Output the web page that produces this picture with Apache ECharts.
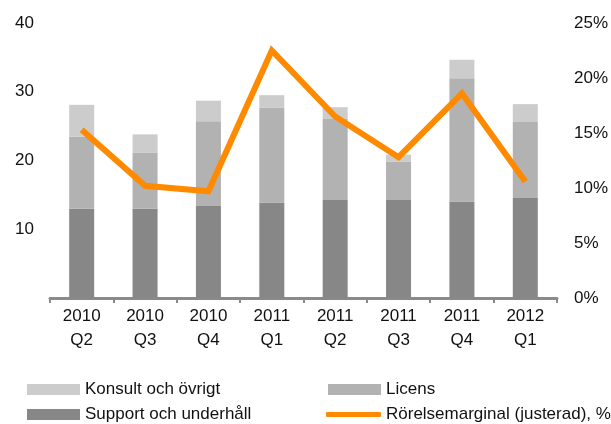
<!DOCTYPE html>
<html>
<head>
<meta charset="utf-8">
<script src="https://cdn.jsdelivr.net/npm/echarts@6/dist/echarts.min.js"></script>
<style>html,body{margin:0;padding:0;background:#fff}#c{width:611px;height:424px}</style>
</head>
<body>
<div id="c"></div>
<script>
const categories = ['2010\nQ2','2010\nQ3','2010\nQ4','2011\nQ1','2011\nQ2','2011\nQ3','2011\nQ4','2012\nQ1'];
const support = [13.0, 13.0, 13.4, 13.9, 14.25, 14.25, 14.05, 14.55];
const licens = [10.5, 8.1, 12.3, 13.8, 11.8, 5.6, 17.9, 11.05];
const konsult = [4.6, 2.7, 3.0, 1.8, 1.7, 1.0, 2.7, 2.6];
const margin = [15.3, 10.2, 9.7, 22.5, 16.5, 12.8, 18.6, 10.6];

const FONT = 'Liberation Sans';
const FS = 17;
const legTxt = {fontSize: FS, color: '#111', fontFamily: FONT};
function leg(left, top, name, extra) {
  return Object.assign({left: left, top: top, padding: 0, itemWidth: 53, itemHeight: 11, itemGap: 5,
    icon: 'rect', textStyle: legTxt, data: [name]}, extra || {});
}
const chart = echarts.init(document.getElementById('c'), null, {renderer:'canvas'});
chart.setOption({
  animation: false,
  textStyle: {fontFamily: FONT},
  grid: {left: 50, right: 49, top: 23, bottom: 126, containLabel: false},
  legend: [
    leg(27, 381, 'Konsult och övrigt'),
    leg(27, 406, 'Support och underhåll'),
    leg(328, 381, 'Licens'),
    leg(326, 406, 'Rörelsemarginal (justerad), %', {itemWidth: 55, itemHeight: 5, icon: 'roundRect'})
  ],
  xAxis: {
    type: 'category', data: categories, boundaryGap: true,
    axisLine: {lineStyle: {color: '#8a8a8a', width: 3}},
    axisTick: {show: true, length: 5, lineStyle: {color: '#8a8a8a', width: 2}},
    axisLabel: {fontSize: FS, color: '#111', lineHeight: 24, margin: 6, fontFamily: FONT}
  },
  yAxis: [
    {type: 'value', min: 0, max: 40, interval: 10, splitLine: {show: false},
     axisLine: {show: false}, axisTick: {show: false},
     axisLabel: {fontSize: FS, color: '#111', margin: 16, fontFamily: FONT,
       formatter: v => v === 0 ? '' : String(v)}},
    {type: 'value', min: 0, max: 25, interval: 5, splitLine: {show: false},
     axisLine: {show: false}, axisTick: {show: false},
     axisLabel: {fontSize: FS, color: '#111', margin: 17, fontFamily: FONT,
       formatter: v => v + '%'}}
  ],
  series: [
    {name: 'Support och underhåll', type: 'bar', stack: 's', data: support, barWidth: 25,
     itemStyle: {color: '#878787'}},
    {name: 'Licens', type: 'bar', stack: 's', data: licens, barWidth: 25,
     itemStyle: {color: '#b2b2b2'}},
    {name: 'Konsult och övrigt', type: 'bar', stack: 's', data: konsult, barWidth: 25,
     itemStyle: {color: '#cccccc'}},
    {name: 'Rörelsemarginal (justerad), %', type: 'line', yAxisIndex: 1, data: margin,
     symbol: 'none', lineStyle: {color: '#ff8a00', width: 6, join: 'miter'}, itemStyle: {color: '#ff8a00'}}
  ]
});
</script>
</body>
</html>
